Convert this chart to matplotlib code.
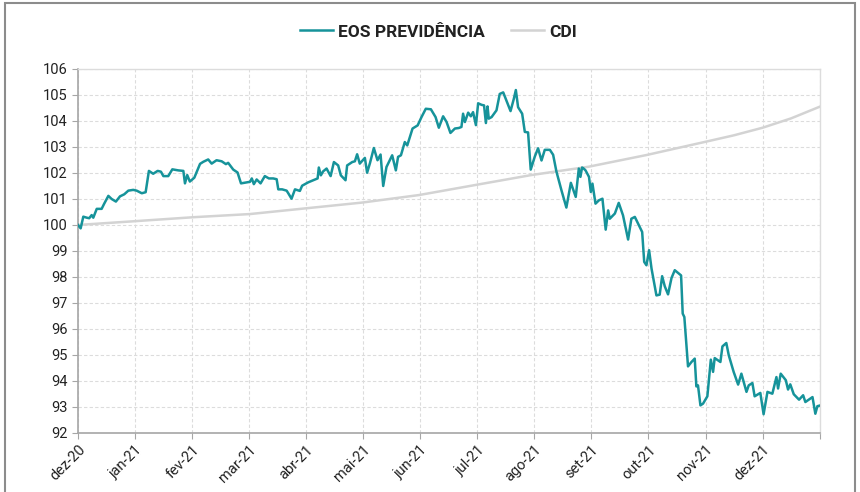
import matplotlib
matplotlib.use("Agg")
import matplotlib.pyplot as plt
from matplotlib.patches import Rectangle

plt.rcParams['font.family'] = ['Roboto', 'DejaVu Sans']

# days since 30/12/2020
eos_day = [0, 1.3, 2.6, 4.3, 5.5, 6.7, 7.5, 9.2, 11.6, 12.8, 14.9, 16.5, 18.6, 20.6, 22.7,
           24.7, 27.1, 28.8, 31.3, 33.2, 34.8, 36.9, 39.1, 40.7, 41.9, 44.3, 46.3, 49.2,
           51.7, 52.5, 53.6, 54.9, 57.1, 59.9, 61.5, 63.9, 65.6, 68.0, 70.5, 72.6, 73.7,
           76.2, 78.3, 80.0, 82.8, 84.4, 85.3, 86.3, 87.7, 89.6, 91.7, 93.7, 95.8, 97.5,
           98.3, 100.2, 102.4, 103.2, 104.8, 106.5, 108.9, 110.0, 113.0, 116.3, 117.6,
           118.2, 119.2, 120.3, 122.0, 124.0, 125.6, 127.7, 129.0, 131.3, 132.1, 134.6,
           135.9, 137.0, 138.3, 140.8, 141.9, 143.3, 145.2, 147.0, 148.5, 149.8, 151.4,
           154.2, 156.0, 157.1, 158.5, 160.4, 161.6, 164.2, 166.7, 168.6, 170.7, 173.2,
           175.5, 177.1, 179.2, 180.9, 182.8, 185.0, 186.9, 188.2, 189.0, 189.9, 191.5,
           192.8, 193.9, 195.3, 196.4, 198.1, 199.3, 200.2, 201.0, 201.6, 203.0, 205.4,
           207.0, 208.7, 210.3, 212.3, 213.9, 214.9, 216.0, 218.0, 219.3, 220.9, 222.2,
           224.2, 225.8, 227.5, 229.1, 231.6, 233.2, 234.8, 237.3, 239.7, 241.9, 244.3,
           245.8, 246.6, 247.4, 248.2, 249.1, 250.8, 251.7, 252.5, 254.0, 255.7, 257.4,
           259.0, 260.2, 261.0, 263.5, 265.4, 267.5, 270.0, 271.6, 273.3, 276.9, 277.9,
           279.0, 280.3, 281.5, 283.9, 285.5, 286.7, 288.0, 289.6, 291.3, 292.9, 294.9,
           296.0, 296.8, 297.6, 299.4, 301.1, 302.7, 303.5, 304.3, 305.5, 306.8, 308.9,
           310.6, 311.7, 312.5, 315.3, 316.3, 318.2, 319.4, 321.8, 324.0, 325.6, 328.1,
           329.2, 331.0, 332.1, 334.9, 336.5, 338.4, 340.8, 342.8, 343.6, 344.9, 347.4,
           348.5, 349.6, 351.3, 353.9, 355.9, 357.0, 360.5, 361.9, 362.9, 364.4]
eos_val = [100.0, 99.87, 100.32, 100.28, 100.26, 100.38, 100.28, 100.62, 100.62, 100.81,
           101.12, 101.0, 100.9, 101.1, 101.18, 101.32, 101.35, 101.32, 101.22, 101.26,
           102.08, 101.97, 102.08, 102.05, 101.88, 101.88, 102.14, 102.1, 102.08, 101.6,
           101.92, 101.67, 101.82, 102.35, 102.43, 102.52, 102.36, 102.49, 102.45, 102.34,
           102.39, 102.13, 102.02, 101.6, 101.64, 101.66, 101.79, 101.57, 101.75, 101.6,
           101.88, 101.79, 101.79, 101.76, 101.37, 101.37, 101.32, 101.22, 101.01, 101.37,
           101.31, 101.51, 101.64, 101.75, 101.79, 102.21, 101.91, 102.06, 102.17, 101.88,
           102.42, 102.29, 101.91, 101.72, 102.29, 102.42, 102.45, 102.72, 102.36, 102.58,
           102.01, 102.38, 102.96, 102.49, 102.71, 101.5, 102.23, 102.68, 102.1, 102.62,
           102.68, 103.19, 103.06, 103.71, 103.83, 104.15, 104.47, 104.45, 104.15, 103.74,
           104.18, 103.96, 103.54, 103.71, 103.73, 103.77, 104.28, 103.96, 104.32, 104.18,
           104.34, 103.84, 104.68, 104.62, 104.6, 103.92, 104.56, 104.09, 104.15, 104.41,
           105.04, 105.1, 104.78, 104.38, 104.85, 105.19, 104.53, 104.28, 103.58, 103.56,
           102.13, 102.63, 102.95, 102.48, 102.89, 102.89, 102.7, 102.06, 101.33, 100.67,
           101.62, 101.08, 102.17, 101.85, 102.21, 102.17, 102.1, 101.85, 101.27, 101.59,
           100.82, 100.95, 101.01, 99.82, 100.56, 100.24, 100.44, 100.85, 100.37, 99.44,
           100.24, 100.31, 99.73, 98.58, 98.45, 99.03, 98.32, 97.29, 97.32, 98.03, 97.64,
           97.33, 97.96, 98.26, 98.13, 98.06, 96.59, 96.46, 94.56, 94.73, 94.86, 93.79,
           93.83, 93.06, 93.13, 93.41, 94.82, 94.35, 94.88, 94.73, 95.33, 95.46, 94.99,
           94.35, 93.86, 94.28, 93.58, 93.83, 93.92, 93.41, 93.54, 92.72, 93.58, 93.51,
           94.15, 93.71, 94.28, 94.03, 93.67, 93.87, 93.49, 93.28, 93.45, 93.19, 93.38,
           92.74, 93.03, 93.06]

cdi_day = [0, 28.8, 57, 84.4, 111.8, 139.3, 167.3, 195.2, 222.5, 250.6, 279, 308, 322, 336, 350, 364.4]
cdi_val = [100.0, 100.15, 100.3, 100.42, 100.64, 100.86, 101.15, 101.54, 101.92, 102.24,
           102.69, 103.2, 103.45, 103.74, 104.1, 104.56]

tick_days = [0, 28, 56, 84, 112, 140, 168, 196, 224, 252, 280, 308, 336, 364]
tick_labels = ['dez-20', 'jan-21', 'fev-21', 'mar-21', 'abr-21', 'mai-21', 'jun-21',
               'jul-21', 'ago-21', 'set-21', 'out-21', 'nov-21', 'dez-21', '']

fig = plt.figure(figsize=(8.6, 4.92), dpi=100)
ax = fig.add_axes([0.0907, 0.12, 0.8633, 0.7398])

ax.plot(eos_day, eos_val, color='#16939a', lw=1.8, label='EOS PREVIDÊNCIA', zorder=3)
ax.plot(cdi_day, cdi_val, color='#d3d3d3', lw=1.8, label='CDI', zorder=2)

ax.set_xlim(0, 364.4)
ax.set_ylim(92, 106)
ax.set_yticks(range(92, 107))
ax.set_xticks(tick_days)
ax.set_xticklabels(tick_labels, rotation=45, ha='right', rotation_mode='anchor')
ax.tick_params(axis='both', labelsize=10.5, color='#a6a6a6', length=4, labelcolor='#222222')
ax.tick_params(axis='x', pad=3)

ax.grid(True, color='#dcdcdc', linestyle=(0, (3, 2)), lw=0.8)
for s in ['left', 'bottom']:
    ax.spines[s].set_color('#a6a6a6')
    ax.spines[s].set_linewidth(1.2)
for s in ['top', 'right']:
    ax.spines[s].set_color('#dcdcdc')
    ax.spines[s].set_linewidth(1)

leg = fig.legend(loc='center', bbox_to_anchor=(0.51, 0.935), ncol=2, frameon=False,
                 prop={'weight': 'bold', 'size': 12.5}, handlelength=1.9, columnspacing=1.5,
                 handletextpad=0.3)
for t in leg.get_texts():
    t.set_color('#222222')

fig.patches.append(Rectangle((0.006, -0.02), 0.988, 1.013, transform=fig.transFigure,
                             fill=False, edgecolor='#8c8c8c', lw=1.5))

fig.savefig('out.png', dpi=100)
